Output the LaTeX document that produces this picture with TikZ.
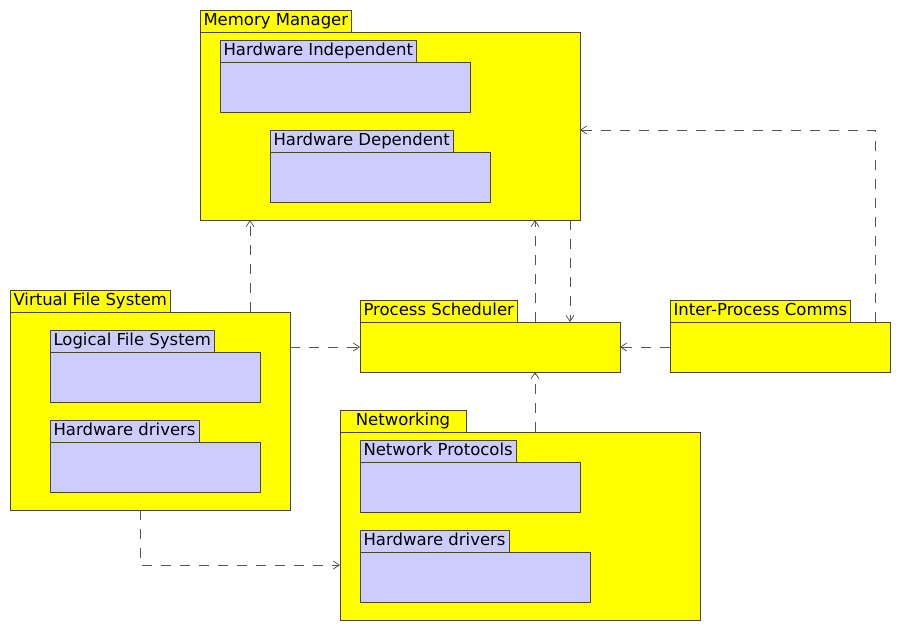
\documentclass[tikz,border=0pt]{standalone}
\usepackage{fontspec}
\setmainfont{DejaVu Sans}
\usetikzlibrary{arrows.meta}
\definecolor{pkgyellow}{HTML}{FFFF00}
\definecolor{pkglilac}{HTML}{CCCCFF}
\definecolor{pkgline}{HTML}{4A4620}
\definecolor{depline}{HTML}{555555}
\tikzset{
  pkgbody/.style={draw=pkgline, line width=0.9pt, inner sep=0pt, outer sep=0pt, anchor=north west},
  pkgtab/.style={draw=pkgline, line width=0.9pt, anchor=south west, inner xsep=3.5pt, inner ysep=0pt,
    outer sep=0pt, minimum height=22pt, text height=12pt, text depth=3pt,
    font=\fontsize{16.5}{18}\selectfont},
  outer/.style={fill=pkgyellow},
  inner/.style={fill=pkglilac},
  dep/.style={draw=depline, line width=0.8pt, dash pattern=on 10pt off 9pt,
    -{Straight Barb[length=6pt,width=8pt]}}
}
\begin{document}
\begin{tikzpicture}[x=1pt,y=-1pt]
  \useasboundingbox (0,0) rectangle (900,630);
  % memory manager
  \node[pkgbody, outer, minimum width=380pt, minimum height=188pt] (mm) at (200,32) {};
  \node[pkgtab, outer] (mmtab) at (mm.north west) {Memory Manager};
  \node[pkgbody, inner, minimum width=250pt, minimum height=50pt] (hwind) at (220,62) {};
  \node[pkgtab, inner] (hwindtab) at (hwind.north west) {Hardware Independent};
  \node[pkgbody, inner, minimum width=220pt, minimum height=50pt] (hwdep) at (270,152) {};
  \node[pkgtab, inner] (hwdeptab) at (hwdep.north west) {Hardware Dependent};
  % virtual file system
  \node[pkgbody, outer, minimum width=280pt, minimum height=198pt] (vfs) at (10,312) {};
  \node[pkgtab, outer] (vfstab) at (vfs.north west) {Virtual File System};
  \node[pkgbody, inner, minimum width=210pt, minimum height=50pt] (lfs) at (50,352) {};
  \node[pkgtab, inner] (lfstab) at (lfs.north west) {Logical File System};
  \node[pkgbody, inner, minimum width=210pt, minimum height=50pt] (vfsdrv) at (50,442) {};
  \node[pkgtab, inner] (vfsdrvtab) at (vfsdrv.north west) {Hardware drivers};
  % process scheduler and ipc
  \node[pkgbody, outer, minimum width=260pt, minimum height=50pt] (ps) at (360,322) {};
  \node[pkgtab, outer] (pstab) at (ps.north west) {Process Scheduler};
  \node[pkgbody, outer, minimum width=220pt, minimum height=50pt] (ipc) at (670,322) {};
  \node[pkgtab, outer] (ipctab) at (ipc.north west) {Inter-Process Comms};
  % networking
  \node[pkgbody, outer, minimum width=360pt, minimum height=188pt] (nw) at (340,432) {};
  \node[pkgtab, outer, minimum width=126pt] (nwtab) at (nw.north west) {Networking};
  \node[pkgbody, inner, minimum width=220pt, minimum height=50pt] (np) at (360,462) {};
  \node[pkgtab, inner] (nptab) at (np.north west) {Network Protocols};
  \node[pkgbody, inner, minimum width=230pt, minimum height=50pt] (nwdrv) at (360,552) {};
  \node[pkgtab, inner] (nwdrvtab) at (nwdrv.north west) {Hardware drivers};
  % dependencies
  \draw[dep] ([xshift=240pt]vfs.north west) -- ([xshift=50pt]mm.south west);
  \draw[dep] (ps.west -| vfs.east) -- (ps.west);
  \draw[dep] ([xshift=130pt]vfs.south west) |- ([yshift=-133pt]nw.north west);
  \draw[dep] ([xshift=175pt]ps.north west) -- ([xshift=335pt]mm.south west);
  \draw[dep] ([xshift=370pt]mm.south west) -- ([xshift=210pt]ps.north west);
  \draw[dep] ([xshift=195pt]nw.north west) -- ([xshift=175pt]ps.south west);
  \draw[dep] (ipc.west) -- (ipc.west -| ps.east);
  \draw[dep] ([xshift=-15pt]ipc.north east) |- ([yshift=-98pt]mm.north east);
\end{tikzpicture}
\end{document}
